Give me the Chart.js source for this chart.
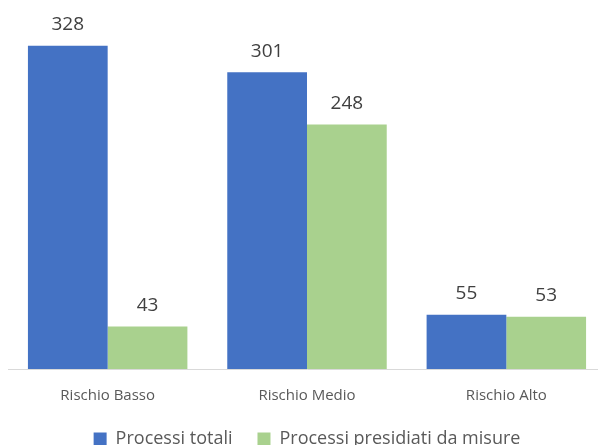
<!DOCTYPE html>
<html>
<head>
<meta charset="utf-8">
<script src="https://cdn.jsdelivr.net/npm/chart.js@4"></script>
<style>
  html, body { margin: 0; padding: 0; background: #fff; overflow: hidden; }
  #wrap { width: 598px; height: 445px; overflow: hidden; }
</style>
</head>
<body>
<div id="wrap"><canvas id="c" width="606" height="458"></canvas></div>
<script>
const categories = ['Rischio Basso', 'Rischio Medio', 'Rischio Alto'];
const processiTotali = [328, 301, 55];
const processiPresidiati = [43, 248, 53];

const FONT = '"Open Sans", sans-serif';

// value labels above each bar
const valueLabels = {
  id: 'valueLabels',
  afterDatasetsDraw(chart) {
    const ctx = chart.ctx;
    ctx.save();
    ctx.font = '19px ' + FONT;
    ctx.fillStyle = '#404040';
    ctx.textAlign = 'center';
    ctx.textBaseline = 'middle';
    chart.data.datasets.forEach((ds, i) => {
      chart.getDatasetMeta(i).data.forEach((bar, j) => {
        ctx.fillText(ds.data[j], bar.x, bar.y - 21);
      });
    });
    ctx.restore();
  }
};

new Chart(document.getElementById('c'), {
  type: 'bar',
  data: {
    labels: categories,
    datasets: [
      { label: 'Processi totali', data: processiTotali, backgroundColor: '#4472c4' },
      { label: 'Processi presidiati da misure', data: processiPresidiati, backgroundColor: '#a9d18e' }
    ]
  },
  options: {
    responsive: false,
    animation: false,
    layout: { padding: { top: 24, left: 8, right: 0, bottom: 0 } },
    datasets: { bar: { categoryPercentage: 0.8, barPercentage: 1 } },
    scales: {
      x: {
        grid: { display: false },
        border: { color: '#d9d9d9', width: 1 },
        ticks: { color: '#595959', font: { family: FONT, size: 15 }, padding: 10 },
        afterFit(scale) { scale.height = 36; }
      },
      y: { display: false, min: 0, max: 350 }
    },
    plugins: {
      legend: {
        position: 'bottom',
        labels: {
          color: '#595959',
          font: { family: FONT, size: 18 },
          boxWidth: 13, boxHeight: 13, padding: 25
        }
      },
      tooltip: { enabled: false }
    }
  },
  plugins: [valueLabels]
});
</script>
</body>
</html>
